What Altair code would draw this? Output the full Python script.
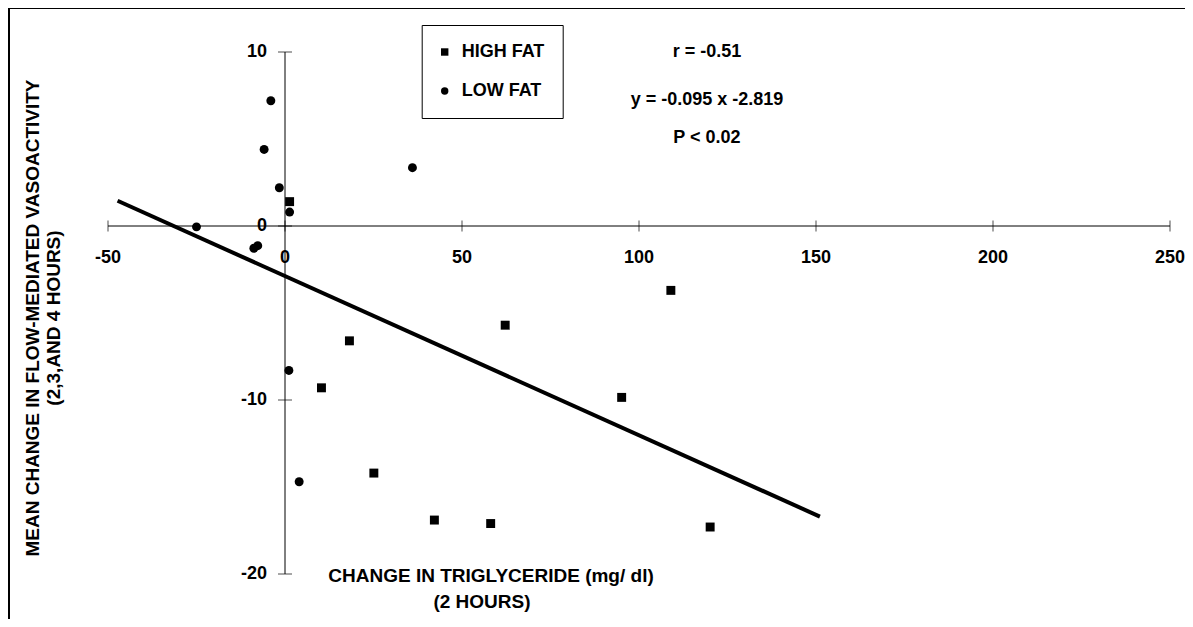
import altair as alt
import pandas as pd

# ---- data ----
high_x = [1.3, 18.2, 10.3, 25.1, 42.2, 58.1, 62.2, 109.0, 95.1, 120.1]
high_y = [1.4, -6.6, -9.3, -14.2, -16.9, -17.1, -5.7, -3.7, -9.85, -17.3]
low_x = [-4.0, -5.9, -1.6, 1.3, -25.0, -8.8, -7.7, 1.1, 4.0, 36.0]
low_y = [7.2, 4.4, 2.2, 0.8, -0.05, -1.28, -1.13, -8.3, -14.7, 3.35]
series_names = ["HIGH FAT", "LOW FAT"]
fit_x = [-47.3, 151.1]
fit_y = [1.45, -16.7]
x_ticks = [-50, 0, 50, 100, 150, 200, 250]
y_ticks = [-20, -10, 0, 10]
x_axis_span = [-50, 250]
y_axis_span = [-20, 10]
stats_lines = ["r = -0.51", "y = -0.095 x -2.819", "P < 0.02"]
stats_y = [10.0, 7.25, 5.05]
stats_x = 119.2
x_title = ["CHANGE IN TRIGLYCERIDE  (mg/ dl)", "(2 HOURS)"]
y_title = ["MEAN CHANGE IN FLOW-MEDIATED VASOACTIVITY", "(2,3,AND 4 HOURS)"]

# ---- layout ----
W, H = 1177, 611
FONT = "Liberation Sans"
FS = 18      # tick labels, legend, statistics
FT = 19      # axis titles
ox, oy = 277.0, 218.0
kx, ky = 3.54, 17.4
x_dom = [-ox / kx, (W - ox) / kx]
y_dom = [(oy - H) / ky, oy / ky]
xs = alt.Scale(domain=x_dom, nice=False, zero=False)
ys = alt.Scale(domain=y_dom, nice=False, zero=False)


def X(f):
    return alt.X(f, scale=xs, axis=None)


def Y(f):
    return alt.Y(f, scale=ys, axis=None)


pts = pd.DataFrame({
    "x": high_x + low_x,
    "y": high_y + low_y,
    "group": [series_names[0]] * len(high_x) + [series_names[1]] * len(low_x),
})

points = alt.Chart(pts).mark_point(filled=True, color="black", opacity=1, size=80).encode(
    x=X("x:Q"),
    y=Y("y:Q"),
    shape=alt.Shape("group:N", scale=alt.Scale(domain=series_names, range=["square", "circle"]),
                    legend=alt.Legend(title=None, orient="none", legendX=413.7, legendY=17,
                                      direction="vertical", strokeColor="black", padding=18,
                                      labelFont=FONT, labelFontSize=FS, labelFontWeight="bold",
                                      labelColor="black", labelOffset=8, symbolOffset=-4,
                                      rowPadding=21,
                                      symbolSize=55, symbolFillColor="black",
                                      symbolStrokeColor="black", symbolStrokeWidth=0)),
)

fit = alt.Chart(pd.DataFrame({"x": fit_x, "y": fit_y})).mark_line(color="black", strokeWidth=4).encode(
    x=X("x:Q"), y=Y("y:Q"))

xaxis_line = alt.Chart(pd.DataFrame({"a": [x_axis_span[0]], "b": [x_axis_span[1]], "y": [0]})).mark_rule(
    color="black", strokeWidth=1).encode(x=X("a:Q"), x2="b:Q", y=Y("y:Q"))
yaxis_line = alt.Chart(pd.DataFrame({"a": [y_axis_span[0]], "b": [y_axis_span[1]], "x": [0]})).mark_rule(
    color="black", strokeWidth=1).encode(y=Y("a:Q"), y2="b:Q", x=X("x:Q"))

xt = pd.DataFrame({"v": x_ticks, "z": [0] * len(x_ticks), "lab": [str(v) for v in x_ticks]})
yt = pd.DataFrame({"v": y_ticks, "z": [0] * len(y_ticks), "lab": [str(v) for v in y_ticks]})

xtick_marks = alt.Chart(xt).mark_tick(orient="vertical", size=11, thickness=1, color="black").encode(
    x=X("v:Q"), y=Y("z:Q"))
ytick_marks = alt.Chart(yt).mark_tick(orient="horizontal", size=14, thickness=1, color="black").encode(
    y=Y("v:Q"), x=X("z:Q"))

xtick_labels = alt.Chart(xt).mark_text(font=FONT, fontSize=FS, fontWeight="bold", color="black",
                                       dy=32, align="center", baseline="middle").encode(
    x=X("v:Q"), y=Y("z:Q"), text="lab:N")
ytick_labels = alt.Chart(yt).mark_text(font=FONT, fontSize=FS, fontWeight="bold", color="black",
                                       dx=-18, align="right", baseline="middle").encode(
    y=Y("v:Q"), x=X("z:Q"), text="lab:N")

stats = alt.Chart(pd.DataFrame({"t": stats_lines, "y": stats_y, "x": [stats_x] * 3})).mark_text(
    font=FONT, fontSize=FS, fontWeight="bold", color="black", align="center", baseline="middle").encode(
    x=X("x:Q"), y=Y("y:Q"), text="t:N")

xt1 = alt.Chart(pd.DataFrame({"t": [x_title[0]]})).mark_text(
    font=FONT, fontSize=FT, fontWeight="bold", color="black", align="center", baseline="middle").encode(
    x=alt.value(483), y=alt.value(568), text="t:N")
xt2 = alt.Chart(pd.DataFrame({"t": [x_title[1]]})).mark_text(
    font=FONT, fontSize=FT, fontWeight="bold", color="black", align="center", baseline="middle").encode(
    x=alt.value(474), y=alt.value(594), text="t:N")
yt1 = alt.Chart(pd.DataFrame({"t": [y_title[0]]})).mark_text(
    font=FONT, fontSize=FT, fontWeight="bold", color="black", align="center", baseline="middle",
    angle=270).encode(x=alt.value(25), y=alt.value(310), text="t:N")
yt2 = alt.Chart(pd.DataFrame({"t": [y_title[1]]})).mark_text(
    font=FONT, fontSize=FT, fontWeight="bold", color="black", align="center", baseline="middle",
    angle=270).encode(x=alt.value(46), y=alt.value(310), text="t:N")

frame_top = alt.Chart(pd.DataFrame({"k": [0]})).mark_rule(color="black", strokeWidth=2).encode(
    x=alt.value(2), x2=alt.value(1177), y=alt.value(0))
frame_left = alt.Chart(pd.DataFrame({"k": [0]})).mark_rule(color="black", strokeWidth=2).encode(
    x=alt.value(1), y=alt.value(0), y2=alt.value(611))

chart = alt.layer(
    frame_top, frame_left, xaxis_line, yaxis_line, xtick_marks, ytick_marks,
    xtick_labels, ytick_labels, fit, points, stats, xt1, xt2, yt1, yt2,
).properties(
    width=W, height=H, autosize=alt.AutoSizeParams(type="none"), padding=0,
    background="white",
).configure_view(strokeWidth=0)

chart.save("out.html", embed_options={"renderer": "svg", "actions": False})
